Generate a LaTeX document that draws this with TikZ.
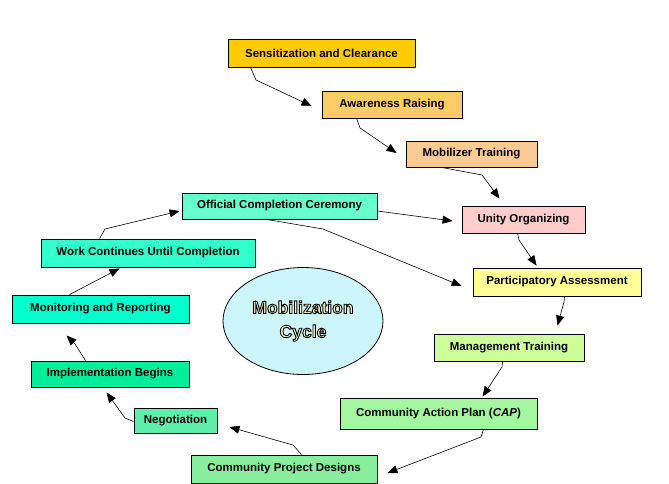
\documentclass[tikz,border=0pt]{standalone}
\usepackage{fontspec}
\setmainfont{Liberation Sans}
\usepackage{xcolor}
\usepackage{tikz}
\usetikzlibrary{shapes.geometric,calc,arrows.meta}

\definecolor{sensC}{HTML}{FFCC00}
\definecolor{awareC}{HTML}{FFCC66}
\definecolor{mobilC}{HTML}{FCCB95}
\definecolor{unityC}{HTML}{FFCCCC}
\definecolor{particC}{HTML}{FFFF99}
\definecolor{manageC}{HTML}{CCFF99}
\definecolor{capC}{HTML}{A2F7A0}
\definecolor{designC}{HTML}{88EE9E}
\definecolor{negotC}{HTML}{5EEEAA}
\definecolor{implemC}{HTML}{00EE99}
\definecolor{monitC}{HTML}{00FFCC}
\definecolor{workC}{HTML}{33FFCC}
\definecolor{officC}{HTML}{66FFCC}
\definecolor{cycleC}{HTML}{CCF5FA}
\definecolor{creamC}{HTML}{FFFFCC}

% outlined letters: cream fill, black stroke
\newcommand{\outlined}[1]{\textcolor{creamC}{\special{pdf:literal direct 0 0 0 RG 0.9 w 2 Tr}#1\special{pdf:literal direct 0 Tr}}}

\begin{document}
\begin{tikzpicture}[x=1pt, y=-1pt,
    stage/.style={draw, rectangle, line width=0.9pt, inner sep=0pt,
        font=\fontsize{11.5}{13}\selectfont\bfseries},
    link/.style={-{Triangle[length=10pt,width=8pt]}, line width=0.6pt}]
    \useasboundingbox (0,0) rectangle (669,483);

    \node[stage, fill=sensC, minimum width=187pt, minimum height=28pt] (sens) at (321.5,53) {Sensitization and Clearance};
    \node[stage, fill=awareC, minimum width=140pt, minimum height=27pt] (aware) at (392,104.5) {Awareness Raising};
    \node[stage, fill=mobilC, minimum width=131pt, minimum height=26pt] (mobil) at (471.5,154) {Mobilizer Training};
    \node[stage, fill=unityC, minimum width=123pt, minimum height=27pt] (unity) at (523.5,219.5) {Unity Organizing};
    \node[stage, fill=particC, minimum width=168pt, minimum height=28pt] (partic) at (557,282) {Participatory Assessment};
    \node[stage, fill=manageC, minimum width=150pt, minimum height=27pt] (manage) at (509,347.5) {Management Training};
    \node[stage, fill=capC, minimum width=197pt, minimum height=31pt] (cap) at (438.5,413.5) {Community Action Plan (\textit{CAP})};
    \node[stage, fill=designC, minimum width=186pt, minimum height=28pt] (design) at (284,469) {Community Project Designs};
    \node[stage, fill=negotC, minimum width=83pt, minimum height=25pt] (negot) at (175.5,420.5) {Negotiation};
    \node[stage, fill=implemC, minimum width=158pt, minimum height=26pt] (implem) at (110,374) {Implementation Begins};
    \node[stage, fill=monitC, minimum width=177pt, minimum height=28pt] (monit) at (100.5,309) {Monitoring and Reporting};
    \node[stage, fill=workC, minimum width=214pt, minimum height=28pt] (work) at (148,253) {Work Continues Until Completion};
    \node[stage, fill=officC, minimum width=195pt, minimum height=26pt] (offic) at (279.5,206) {Official Completion Ceremony};

    \node[draw, ellipse, fill=cycleC, line width=0.8pt, minimum width=160pt, minimum height=107pt, align=center,
        font=\fontsize{17.5}{24}\selectfont\bfseries] (cycle) at (303,321)
        {\outlined{Mobilization}\\\outlined{Cycle}};

    \draw[link] ($(sens.south west)+(23,0)$) -- (256,80) -- ($(aware.west)+(-10,1.5)$);
    \draw[link] ($(aware.south west)+(35,0)$) -- (360,128) -- ($(mobil.west)+(-9,-1)$);
    \draw[link] ($(mobil.south west)+(36,0)$) -- (482,175) -- ($(unity.north west)+(38,-7)$);
    \draw[link] ($(unity.south west)+(56,0)$) -- (519,240) -- ($(partic.north west)+(64,-2)$);
    \draw[link] ($(partic.south west)+(92,0)$) -- (564,302) -- ($(manage.north east)+(-27,-8)$);
    \draw[link] ($(manage.south west)+(69,0)$) -- (502,367) -- ($(cap.north west)+(143,-1)$);
    \draw[link] ($(cap.south west)+(144,0)$) -- (481,437) -- ($(design.east)+(10,4)$);
    \draw[link] ($(design.north west)+(111,0)$) -- (293,445) -- ($(negot.east)+(12,6.5)$);
    \draw[link] ($(negot.west)+(0,1)$) -- (125,418) -- ($(implem.south west)+(76,5)$);
    \draw[link] ($(implem.north west)+(55,0)$) -- (75,344) -- ($(monit.south west)+(55,12)$);
    \draw[link] ($(monit.north west)+(58,0)$) -- ($(work.south west)+(79,1)$);
    \draw[link] ($(work.north west)+(59,0)$) -- (105,229) -- ($(offic.west)+(-2,5)$);
    \draw[link] ($(offic.east)+(0,5)$) -- ($(unity.west)+(-9,1.5)$);
    \draw[link] ($(offic.south west)+(85,0)$) -- (323,229) -- ($(partic.west)+(-11,4)$);
\end{tikzpicture}
\end{document}
